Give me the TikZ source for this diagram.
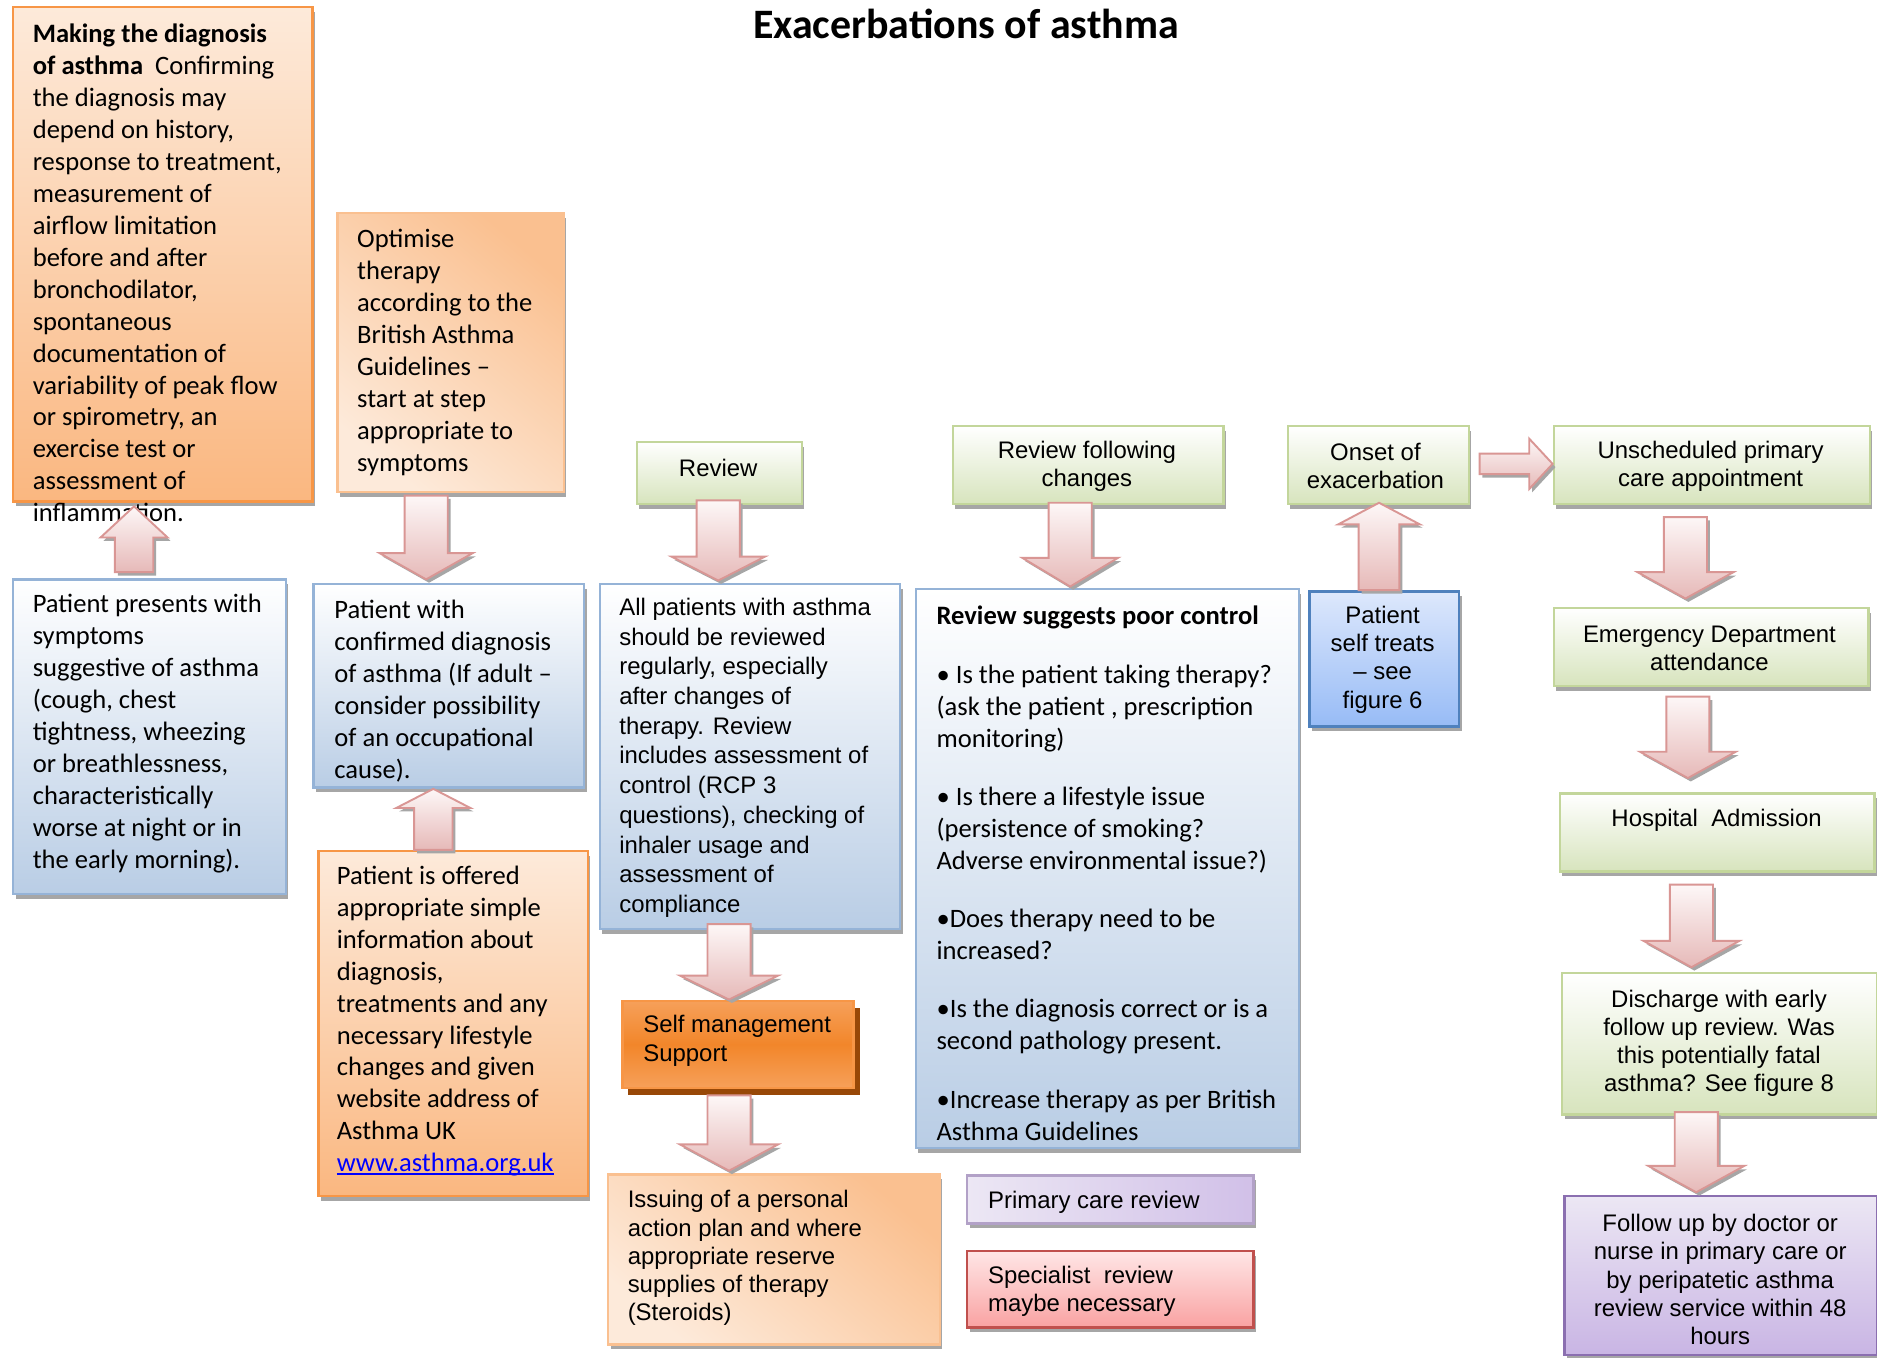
\documentclass[tikz,border=0pt]{standalone}
\usepackage{fontspec}
\usepackage{calc}
\setmainfont{Carlito}
\newfontfamily\arialfont{Liberation Sans}
\usetikzlibrary{calc,shadows}

% palette
\definecolor{peachL}{HTML}{FDEADA}
\definecolor{peachD}{HTML}{FAC090}
\definecolor{peachDeep}{HTML}{FAB780}
\definecolor{orangeLine}{HTML}{F79646}
\definecolor{blueD}{HTML}{B9CDE5}
\definecolor{blueLine}{HTML}{95B3D7}
\definecolor{greenD}{HTML}{D7E4BD}
\definecolor{greenLine}{HTML}{C3D69B}
\definecolor{smTop}{HTML}{F6A05A}
\definecolor{smMid}{HTML}{F2862A}
\definecolor{smLine}{HTML}{F79646}
\definecolor{smShadow}{HTML}{984807}
\definecolor{stTop}{HTML}{DDE8FC}
\definecolor{stBot}{HTML}{97BBF6}
\definecolor{stLine}{HTML}{4F81BD}
\definecolor{purL}{HTML}{ECE7F4}
\definecolor{purD}{HTML}{C9B5E4}
\definecolor{purLine}{HTML}{8B6FB0}
\definecolor{purLineL}{HTML}{B2A1C7}
\definecolor{pinkTop}{HTML}{FFE6E6}
\definecolor{pinkBot}{HTML}{F9A2A2}
\definecolor{pinkLine}{HTML}{C0504D}
\definecolor{arrowTop}{HTML}{FDF7F7}
\definecolor{arrowBot}{HTML}{E6B9B8}
\definecolor{arrowLine}{HTML}{D99694}
\definecolor{shadowGray}{HTML}{A6A6A6}
\definecolor{linkBlue}{HTML}{0000FF}

\newcommand\calfont{\fontsize{11.1pt}{13.35pt}\selectfont}
\newcommand\arfont{\arialfont\fontsize{10pt}{11.8pt}\selectfont}

% vertical and horizontal block arrows: #1 tail point, #2 tip point,
% #3 half shaft width, #4 half head width, #5 head length
\newcommand\arrdown[5]{%
  \path[blockarrow] let \p1=#1, \p2=#2 in
    ({\x1-#3},{\y1}) -- ({\x1+#3},{\y1}) -- ({\x1+#3},{\y2+#5}) -- ({\x1+#4},{\y2+#5})
    -- ({\x1},{\y2}) -- ({\x1-#4},{\y2+#5}) -- ({\x1-#3},{\y2+#5}) -- cycle;}
\newcommand\arrup[5]{%
  \path[blockarrow] let \p1=#1, \p2=#2 in
    ({\x1-#3},{\y1}) -- ({\x1+#3},{\y1}) -- ({\x1+#3},{\y2-#5}) -- ({\x1+#4},{\y2-#5})
    -- ({\x1},{\y2}) -- ({\x1-#4},{\y2-#5}) -- ({\x1-#3},{\y2-#5}) -- cycle;}
\newcommand\arrright[5]{%
  \path[blockarrow] let \p1=#1, \p2=#2 in
    ({\x1},{\y1+#3}) -- ({\x2-#5},{\y1+#3}) -- ({\x2-#5},{\y1+#4}) -- ({\x2},{\y1})
    -- ({\x2-#5},{\y1-#4}) -- ({\x2-#5},{\y1-#3}) -- ({\x1},{\y1-#3}) -- cycle;}

% web link, underlined close to the baseline
\newcommand\weblink[1]{{\color{linkBlue}\rlap{\rule[-1.3pt]{\widthof{#1}}{0.8pt}}#1}}

\tikzset{
  box/.style={line width=1pt, anchor=north west, inner sep=0pt,
    drop shadow={shadow xshift=1pt, shadow yshift=-2pt, fill=shadowGray, opacity=1}},
  bluebox/.style={box, draw=blueLine, top color=white, bottom color=blueD},
  greenbox/.style={box, draw=greenLine, top color=white, bottom color=greenD},
  peachbox/.style={box, draw=orangeLine, top color=peachL, bottom color=peachDeep},
  glowbox/.style={box, draw=peachD, top color=peachD, bottom color=peachL, shading angle=-40},
  smbox/.style={line width=1pt, anchor=north west, inner sep=0pt, draw=smLine,
    top color=smTop, bottom color=smTop, middle color=smMid,
    drop shadow={shadow xshift=2.5pt, shadow yshift=-3pt, fill=smShadow, opacity=1}},
  selfbox/.style={box, draw=stLine, top color=stTop, bottom color=stBot},
  lilacbox/.style={box, draw=purLineL, left color=purL, right color=purD!85},
  purplebox/.style={box, draw=purLine, top color=purL, bottom color=purD},
  redbox/.style={box, draw=pinkLine, top color=pinkTop, bottom color=pinkBot},
  caltext/.style={inner sep=0pt, align=left, anchor=west, font=\calfont},
  artext/.style={inner sep=0pt, align=left, anchor=west, font=\arfont},
  arcentre/.style={inner sep=0pt, align=center, anchor=center, font=\arfont},
  blockarrow/.style={draw=arrowLine, line width=0.8pt, top color=arrowTop, bottom color=arrowBot,
    preaction={fill=shadowGray, transform canvas={shift={(1.2pt,-1.4pt)}}}},
}

\begin{document}
\begin{tikzpicture}[x=0.5pt, y=-0.5pt]
\useasboundingbox (0,0) rectangle (1568,1134);
\fill[white] (0,0) rectangle (1568,1134);

% title
\node[inner sep=0pt, font=\fontsize{17.5pt}{21pt}\selectfont\bfseries] (title) at (807,20) {Exacerbations of asthma};

% boxes
\node[peachbox, minimum width=125pt, minimum height=206.5pt] (diag) at (10,5) {};
\node[glowbox, minimum width=94.5pt, minimum height=116.5pt] (opt) at (281,177) {};
\node[greenbox, minimum width=69pt, minimum height=26pt] (review) at (531,368) {};
\node[greenbox, minimum width=113pt, minimum height=32.5pt] (revfol) at (795,355) {};
\node[greenbox, minimum width=75.5pt, minimum height=32.5pt] (onset) at (1075,355) {};
\node[greenbox, minimum width=132pt, minimum height=32.5pt] (unsch) at (1297,355) {};
\node[bluebox, minimum width=114pt, minimum height=131.5pt] (pres) at (10,483) {};
\node[bluebox, minimum width=113pt, minimum height=85pt] (conf) at (261,487) {};
\node[peachbox, minimum width=112.5pt, minimum height=144pt] (offer) at (265,710) {};
\node[bluebox, minimum width=125.5pt, minimum height=144pt] (allp) at (500,487) {};
\node[smbox, minimum width=96.5pt, minimum height=36.5pt] (selfm) at (519,835) {};
\node[glowbox, minimum width=138.5pt, minimum height=71pt] (issue) at (507,980) {};
\node[bluebox, minimum width=160pt, minimum height=233.5pt] (revsug) at (764,491) {};
\node[selfbox, minimum width=62.5pt, minimum height=56.5pt] (selft) at (1093,493) {};
\node[greenbox, minimum width=131.5pt, minimum height=32.5pt] (emerg) at (1297,507) {};
\node[greenbox, minimum width=131.5pt, minimum height=32.5pt] (hosp) at (1302,662) {};
\node[greenbox, minimum width=131.5pt, minimum height=59pt] (disch) at (1304,812) {};
\node[purplebox, minimum width=130.5pt, minimum height=66.5pt] (follow) at (1306,998) {};
\node[lilacbox, minimum width=119.5pt, minimum height=20pt] (pcr) at (807,981) {};
\node[redbox, minimum width=119.5pt, minimum height=32pt] (spec) at (807,1044) {};

% texts
\node[caltext] (diagtxt) at (27,228) {\textbf{Making the diagnosis}\\
  \textbf{of asthma}\ \ Confirming\\ the diagnosis may\\ depend on history,\\
  response to treatment,\\ measurement of\\ airflow limitation\\ before and after\\
  bronchodilator,\\ spontaneous\\ documentation of\\ variability of peak flow\\
  or spirometry, an\\ exercise test or\\ assessment of\\ inflammation.};
\node[caltext] (opttxt) at (298,294.5) {Optimise\\ therapy\\ according to the\\
  British Asthma\\ Guidelines –\\ start at step\\ appropriate to\\ symptoms};
\node[caltext] (prestxt) at (27,613) {Patient presents with\\ symptoms\\
  suggestive of asthma\\ (cough, chest\\ tightness, wheezing\\ or breathlessness,\\
  characteristically\\ worse at night or in\\ the early morning).};
\node[caltext] (conftxt) at (279,577.5) {Patient with\\ confirmed diagnosis\\
  of asthma (If adult –\\ consider possibility\\ of an occupational\\ cause).};
\node[caltext] (offertxt) at (281,853) {Patient is offered\\ appropriate simple\\
  information about\\ diagnosis,\\ treatments and any\\ necessary lifestyle\\
  changes and given\\ website address of\\ Asthma UK\\
  \weblink{www.asthma.org.uk}};
\node[caltext] (revsugtxt) at (782,729.5) {\textbf{Review suggests poor control}\\[11pt]
  • Is the patient taking therapy?\\ (ask the patient , prescription\\ monitoring)\\[11pt]
  • Is there a lifestyle issue\\ (persistence of smoking?\\ Adverse environmental issue?)\\[11pt]
  •Does therapy need to be\\ increased?\\[11pt]
  •Is the diagnosis correct or is a\\ second pathology present.\\[11pt]
  •Increase therapy as per British\\ Asthma Guidelines};
\node[artext, font=\arialfont\fontsize{10pt}{12.4pt}\selectfont] (allptxt) at (517,633)
  {All patients with asthma\\ should be reviewed\\ regularly, especially\\
  after changes of\\ therapy. Review\\ includes assessment of\\ control (RCP 3\\
  questions), checking of\\ inhaler usage and\\ assessment of\\ compliance};
\node[artext] (selfmtxt) at (537,869.5) {Self management\\ Support};
\node[artext] (issuetxt) at (524,1051) {Issuing of a personal\\ action plan and where\\
  appropriate reserve\\ supplies of therapy\\ (Steroids)};
\node[artext] (pcrtxt) at (825,1004) {Primary care review};
\node[artext] (spectxt) at (825,1079) {Specialist\ \ review\\ maybe necessary};
\node[arcentre] (reviewtxt) at (600,391) {Review};
\node[arcentre] (revfoltxt) at (908,389.5) {Review following\\ changes};
\node[arcentre] (onsettxt) at (1149,389.5) {Onset of\\ exacerbation};
\node[arcentre] (unschtxt) at (1429,389.5) {Unscheduled primary\\ care appointment};
\node[arcentre] (selfttxt) at (1155,551) {Patient\\ self treats\\ – see\\ figure 6};
\node[arcentre] (emergtxt) at (1428,541.5) {Emergency Department\\ attendance};
\node[arcentre] (hosptxt) at (1434,685) {Hospital\ \ Admission};
\node[arcentre] (dischtxt) at (1436,871.5) {Discharge with early\\ follow up review. Was\\
  this potentially fatal\\ asthma? See figure 8};
\node[arcentre] (followtxt) at (1437,1069) {Follow up by doctor or\\ nurse in primary care or\\
  by peripatetic asthma\\ review service within 48\\ hours};

% block arrows between boxes
\arrup{([xshift=-6.5pt,yshift=2.5pt]pres.north)}{([yshift=-1.5pt]diag.south)}{8pt}{14pt}{13pt}
\arrdown{([xshift=-10.25pt,yshift=-1pt]opt.south)}{([yshift=1.5pt]conf.north)}{9pt}{19.5pt}{11pt}
\arrup{([xshift=-8.25pt]offer.north)}{(conf.south)}{8pt}{15.5pt}{8pt}
\arrdown{([xshift=-0.5pt,yshift=2pt]review.south)}{([yshift=1pt]allp.north)}{9pt}{19.5pt}{10pt}
\arrdown{([xshift=-7.5pt,yshift=1pt]revfol.south)}{([yshift=0.5pt]revsug.north)}{9pt}{20pt}{12pt}
\arrup{([xshift=-2.25pt]selft.north)}{([yshift=1pt]onset.south)}{8.5pt}{17pt}{9pt}
\arrright{([xshift=4pt,yshift=0.5pt]onset.east)}{(unsch.west)}{4.3pt}{10.5pt}{9.75pt}
\arrdown{([xshift=-11pt,yshift=-5pt]unsch.south)}{([yshift=3.5pt]emerg.north)}{9pt}{20pt}{11pt}
\arrdown{([xshift=-9.75pt,yshift=-4pt]emerg.south)}{([yshift=6pt]hosp.north)}{9pt}{20pt}{11pt}
\arrdown{([xshift=-10.75pt,yshift=-5pt]hosp.south)}{([yshift=2pt]disch.north)}{9pt}{20pt}{11pt}
\arrdown{([xshift=-8.75pt,yshift=2.5pt]allp.south)}{(selfm.north)}{9pt}{20.5pt}{10pt}
\arrdown{([xshift=-3.75pt,yshift=-2.5pt]selfm.south)}{([yshift=1pt]issue.north)}{9pt}{20.5pt}{11pt}
\arrdown{([xshift=-9.75pt,yshift=1.5pt]disch.south)}{([yshift=1pt]follow.north)}{9pt}{20pt}{11pt}
\end{tikzpicture}
\end{document}
